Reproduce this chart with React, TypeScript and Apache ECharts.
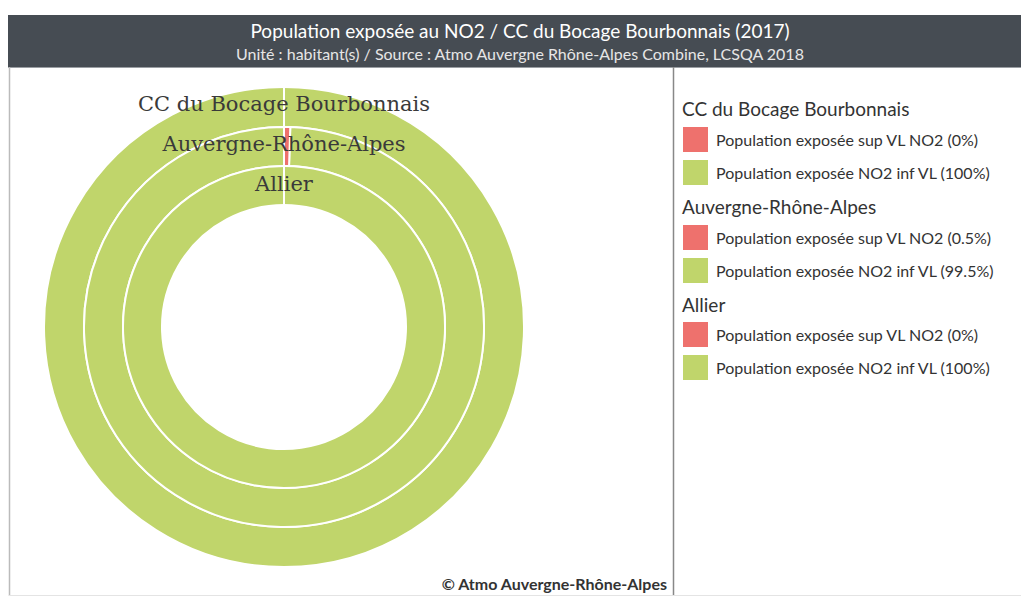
import React, { useEffect, useRef } from "react";
import * as echarts from "echarts";

// ---- data ----
const headerTitle = "Population exposée au NO2 / CC du Bocage Bourbonnais (2017)";
const headerSubtitle = "Unité : habitant(s) / Source : Atmo Auvergne Rhône-Alpes Combine, LCSQA 2018";
const creditText = "© Atmo Auvergne-Rhône-Alpes";
const ringNames = ["CC du Bocage Bourbonnais", "Auvergne-Rhône-Alpes", "Allier"];
const supLabel = "Population exposée sup VL NO2";
const infLabel = "Population exposée NO2 inf VL";
const supShares = [0, 0.5, 0];
const infShares = [100, 99.5, 100];

// ---- style ----
const RED = "#ee716d";
const GREEN = "#c0d56b";
const CX = 284;
const CY = 327;
const radii: [number, number][] = [
  [200, 240],
  [161, 200],
  [122, 161],
];
const ringLabelY = [104, 144, 184];
const groupTitleY = [108, 206, 304];
const legendTop = [127, 225, 322];

export default function App() {
  const ref = useRef<HTMLDivElement>(null);
  useEffect(() => {
    if (!ref.current) return;
    const chart = echarts.init(ref.current, undefined, { renderer: "svg" });

    // green drawn first (counter-clockwise), red/zero slice drawn last so its white edge stays visible
    const series = ringNames.map((name, i) => ({
      type: "pie",
      name,
      center: [CX, CY],
      radius: radii[i],
      startAngle: 90,
      clockwise: false,
      silent: true,
      label: { show: false },
      labelLine: { show: false },
      emphasis: { disabled: true },
      itemStyle: { borderColor: "#ffffff", borderWidth: 2 },
      data: [
        { name: `${infLabel} (${infShares[i]}%)`, value: infShares[i], itemStyle: { color: GREEN } },
        { name: `${supLabel} (${supShares[i]}%)`, value: supShares[i], itemStyle: { color: RED } },
      ],
    }));

    const legends = ringNames.map((_, i) => ({
      orient: "vertical",
      left: 683,
      top: legendTop[i],
      padding: 0,
      itemWidth: 25,
      itemHeight: 25,
      itemGap: 8,
      icon: "rect",
      selectedMode: false,
      itemStyle: { borderWidth: 0 },
      textStyle: { fontFamily: "Lato", fontSize: 16, color: "#333", padding: [0, 0, 0, 3] },
      data: [`${supLabel} (${supShares[i]}%)`, `${infLabel} (${infShares[i]}%)`],
    }));

    const graphics: any[] = [
      { type: "rect", shape: { x: 8, y: 15, width: 1013, height: 52 }, style: { fill: "#464c53" } },
      { type: "line", shape: { x1: 8, y1: 67.5, x2: 1021, y2: 67.5 }, style: { stroke: "#9a9ea3", lineWidth: 1 } },
      { type: "line", shape: { x1: 9.5, y1: 67, x2: 9.5, y2: 596 }, style: { stroke: "#bbbbbb", lineWidth: 1.5 } },
      { type: "line", shape: { x1: 673.5, y1: 67, x2: 673.5, y2: 596 }, style: { stroke: "#888888", lineWidth: 1.5 } },
      { type: "line", shape: { x1: 9, y1: 595.5, x2: 1021, y2: 595.5 }, style: { stroke: "#e4e4e4", lineWidth: 1 } },
      {
        type: "text", x: 520, y: 30,
        style: { text: headerTitle, fill: "#ffffff", font: "19px Lato", textAlign: "center", textVerticalAlign: "middle" },
      },
      {
        type: "text", x: 520, y: 53,
        style: { text: headerSubtitle, fill: "#e6e6e6", font: "16px Lato", textAlign: "center", textVerticalAlign: "middle" },
      },
      {
        type: "text", x: 667, y: 583,
        style: { text: creditText, fill: "#333333", font: "bold 16px Lato", textAlign: "right", textVerticalAlign: "middle" },
      },
    ];
    ringNames.forEach((name, i) => {
      graphics.push({
        type: "text", x: CX, y: ringLabelY[i], z: 10,
        style: { text: name, fill: "#3a3a3a", font: "21px 'DejaVu Serif'", textAlign: "center", textVerticalAlign: "middle" },
      });
      graphics.push({
        type: "text", x: 682, y: groupTitleY[i],
        style: { text: name, fill: "#333333", font: "19px Lato", textAlign: "left", textVerticalAlign: "middle" },
      });
    });

    chart.setOption({
      animation: false,
      backgroundColor: "#ffffff",
      legend: legends,
      series,
      graphic: { elements: graphics },
    });
    return () => chart.dispose();
  }, []);
  return <div ref={ref} style={{ position: "fixed", left: 0, top: 0, width: 1021, height: 596 }} />;
}
